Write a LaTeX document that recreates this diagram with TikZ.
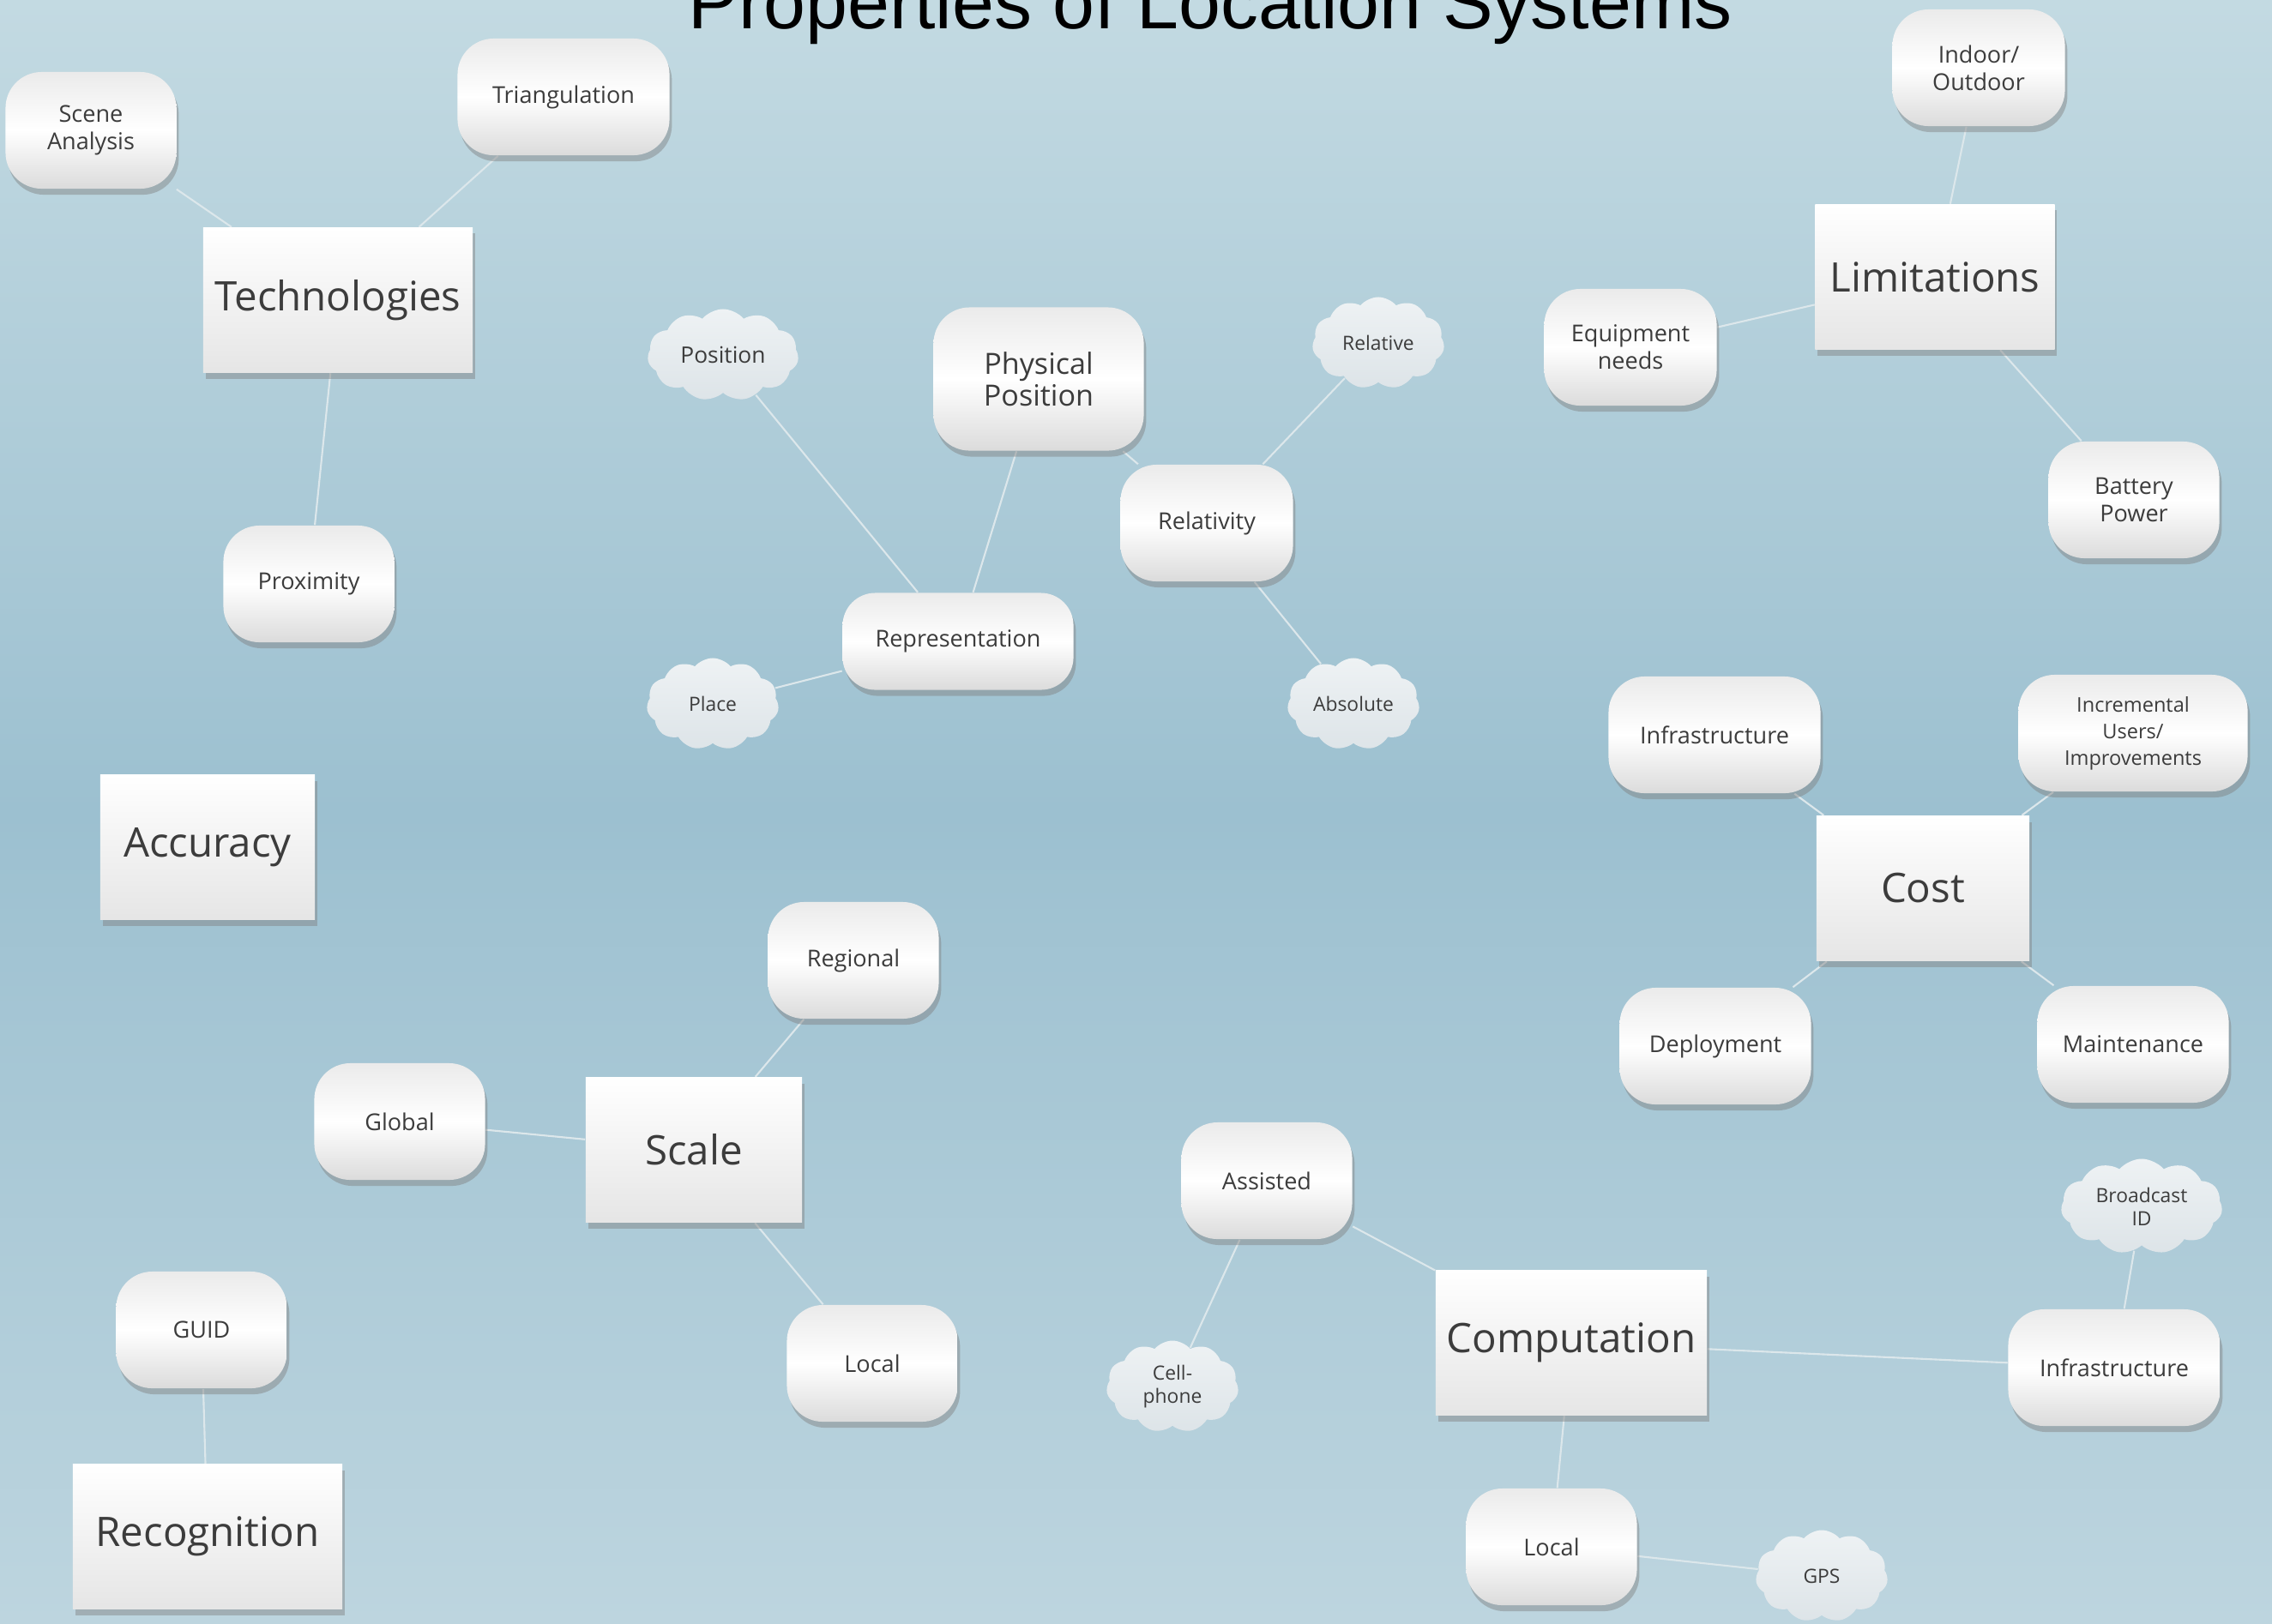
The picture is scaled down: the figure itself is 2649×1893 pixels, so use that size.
\documentclass[tikz,border=0pt]{standalone}
\usepackage{fontspec}
\setmainfont{Open Sans}
\newfontfamily\titlefont{Liberation Sans}
\usepackage{xcolor}
\usepackage{tikz}
\usetikzlibrary{shapes.symbols,shadows,backgrounds}
\definecolor{bgtop}{HTML}{C3DAE2}
\definecolor{bgmid}{HTML}{9CC0D0}
\definecolor{bgbot}{HTML}{BDD5DF}
\definecolor{linkline}{HTML}{DCE7EB}
\definecolor{labelgray}{HTML}{3C3C3C}
\definecolor{puffhi}{HTML}{EEF2F4}
\definecolor{pufflo}{HTML}{DDE4E8}

\begin{document}
\begin{tikzpicture}[x=0.01cm,y=-0.01cm,
    topic/.style={rectangle, top color=white, bottom color=black!10,
        drop shadow={opacity=0.45, shadow xshift=0.8pt, shadow yshift=-2pt},
        minimum height=1.69cm, text=labelgray, font=\fontsize{13.5}{15}\selectfont},
    item/.style={rectangle, rounded corners=0.42cm, top color=black!8, bottom color=black!14, middle color=white,
        drop shadow={opacity=0.45, shadow xshift=0.8pt, shadow yshift=-2pt},
        minimum width=1.99cm, minimum height=1.36cm, align=center, text=labelgray,
        font=\fontsize{7.7}{9.1}\selectfont},
    puff/.style={cloud, cloud puffs=11, cloud puff arc=100, aspect=1.6, top color=puffhi, bottom color=pufflo,
        inner sep=0pt, minimum width=1.54cm, minimum height=1.07cm, align=center, text=labelgray,
        font=\fontsize{6.5}{7.7}\selectfont},
    link/.style={draw=linkline, line width=0.6pt}]

    \useasboundingbox (0,0) rectangle (2649,1893);
    \clip (0,0) rectangle (2649,1893);

    \node[font=\titlefont\fontsize{25}{25}\selectfont, anchor=base] (title) at (1411,33) {Properties of Location Systems};

    \node[topic, minimum width=3.14cm] (tech) at (394,350) {Technologies};
    \node[topic, minimum width=2.79cm] (limits) at (2256,323) {Limitations};
    \node[topic, minimum width=2.5cm] (acc) at (242,988) {Accuracy};
    \node[topic, minimum width=2.48cm] (cost) at (2242,1036) {Cost};
    \node[topic, minimum width=2.52cm] (scale) at (809,1341) {Scale};
    \node[topic, minimum width=3.16cm] (comp) at (1832,1566) {Computation};
    \node[topic, minimum width=3.14cm] (recog) at (242,1792) {Recognition};

    \node[item] (scene) at (106,152) {Scene\\Analysis};
    \node[item, minimum width=2.47cm] (tri) at (657,113) {Triangulation};
    \node[item] (prox) at (360,681) {Proximity};
    \node[item, minimum width=2.45cm, minimum height=1.67cm, font=\fontsize{9.7}{10.5}\selectfont] (phys) at (1211,442) {Physical\\Position};
    \node[item, minimum width=2.01cm] (relat) at (1407,610) {Relativity};
    \node[item, minimum width=2.69cm, minimum height=1.13cm, rounded corners=0.38cm] (repr) at (1117,748) {Representation};
    \node[item, minimum width=2.01cm] (indoor) at (2307,79) {Indoor/\\Outdoor};
    \node[item, minimum width=2.01cm] (equip) at (1901,405) {Equipment\\needs};
    \node[item] (battery) at (2488,583) {Battery\\Power};
    \node[item, minimum width=2.47cm] (infra) at (1999,857) {Infrastructure};
    \node[item, minimum width=2.67cm, font=\fontsize{6.7}{8.8}\selectfont] (incr) at (2487,855) {Incremental\\Users/\\Improvements};
    \node[item, minimum width=2.23cm] (deploy) at (2000,1220) {Deployment};
    \node[item, minimum width=2.23cm] (maint) at (2487,1218) {Maintenance};
    \node[item] (regional) at (995,1120) {Regional};
    \node[item] (global) at (466,1308) {Global};
    \node[item] (slocal) at (1017,1590) {Local};
    \node[item] (guid) at (235,1551) {GUID};
    \node[item] (assisted) at (1477,1377) {Assisted};
    \node[item, minimum width=2.47cm] (cinfra) at (2465,1595) {Infrastructure};
    \node[item] (clocal) at (1809,1804) {Local};

    \node[puff, minimum width=1.76cm, font=\fontsize{7.5}{8.5}\selectfont] (position) at (843,414) {Position};
    \node[puff] (relative) at (1607,400) {Relative};
    \node[puff] (place) at (831,821) {Place};
    \node[puff] (absolute) at (1578,821) {Absolute};
    \node[puff, minimum width=1.88cm, minimum height=1.11cm] (broadcast) at (2497,1407) {Broadcast\\ID};
    \node[puff] (cell) at (1367,1617) {Cell-\\phone};
    \node[puff] (gps) at (2124,1838) {GPS};

    \begin{scope}[on background layer]
        \shade[top color=bgtop, bottom color=bgbot, middle color=bgmid] (0,0) rectangle (2649,1893);
        \draw[link] (tech) -- (scene) (tech) -- (tri) (tech) -- (prox);
        \draw[link] (phys) -- (repr) (phys) -- (relat);
        \draw[link] (repr) -- (position) (repr) -- (place);
        \draw[link] (relat) -- (relative) (relat) -- (absolute);
        \draw[link] (limits) -- (indoor) (limits) -- (equip) (limits) -- (battery);
        \draw[link] (cost) -- (infra) (cost) -- (incr) (cost) -- (deploy) (cost) -- (maint);
        \draw[link] (scale) -- (regional) (scale) -- (global) (scale) -- (slocal);
        \draw[link] (recog) -- (guid);
        \draw[link] (comp) -- (assisted) (comp) -- (cinfra) (comp) -- (clocal);
        \draw[link] (assisted) -- (cell) (cinfra) -- (broadcast) (clocal) -- (gps);
    \end{scope}
\end{tikzpicture}
\end{document}
